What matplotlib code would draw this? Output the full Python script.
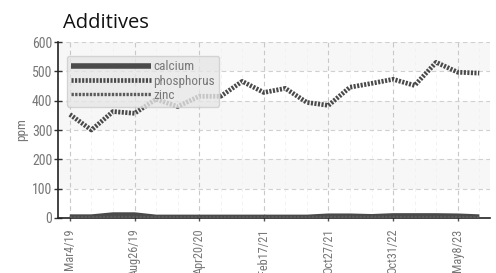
import matplotlib
matplotlib.use("Agg")
import matplotlib.pyplot as plt
import numpy as np

dates = ["Mar4/19", "", "", "Aug26/19", "", "", "Apr20/20", "", "", "Feb17/21", "", "",
         "Oct27/21", "", "", "Oct31/22", "", "", "May8/23", ""]
phosphorus = [353, 300, 363, 357, 405, 380, 415, 415, 466, 428, 442, 394,
              384, 446, 459, 473, 452, 531, 497, 494]
calcium = [3, 3, 10, 10, 2, 2, 2, 2, 2, 2, 2, 2, 6, 6, 4, 7, 7, 7, 6, 3]
zinc = [1, 1, 2, 2, 1, 1, 1, 1, 1, 1, 1, 1, 2, 2, 2, 2, 2, 2, 2, 1]
yticks = [0, 100, 200, 300, 400, 500, 600]

cond = ['Roboto Condensed', 'Liberation Sans Narrow', 'Roboto', 'DejaVu Sans']

fig = plt.figure(figsize=(4.96, 2.73), dpi=100)
ax = fig.add_axes([0.117, 0.2015, 0.871, 0.6445])
x = np.arange(len(phosphorus))

for lo in (100, 300, 500):
    ax.axhspan(lo, lo + 100, color='#f7f7f7', zorder=0, lw=0)

lc = '#4a4a4a'
ax.plot(x, calcium, color=lc, lw=4, solid_capstyle='butt', label='calcium', zorder=3)
ax.plot(x, phosphorus, color=lc, lw=3.4, ls=(0, (0.45, 0.3)), label='phosphorus', zorder=3)
ax.plot(x, zinc, color='#5a5a5a', lw=2.4, ls=(0, (0.7, 0.4)), label='zinc', zorder=3)

ax.set_xlim(-0.55, 19.5)
ax.set_ylim(0, 600)
ax.set_yticks(yticks)
ax.set_yticklabels([str(v) for v in yticks])
major = [i for i, d in enumerate(dates) if d]
ax.set_xticks(major)
ax.set_xticklabels([dates[i] for i in major], rotation=90, va='top')
ax.set_xticks(x, minor=True)

ax.grid(True, which='major', axis='y', color='#d0d0d0', ls=(0, (4, 3)), lw=0.8, zorder=1)
ax.grid(True, which='major', axis='x', color='#c8c8c8', ls=(0, (4, 3)), lw=0.8, zorder=1)
ax.grid(True, which='minor', axis='x', color='#f0f0f0', ls=(0, (4, 4)), lw=0.6, zorder=1)

for s in ('top', 'right'):
    ax.spines[s].set_visible(False)
for s in ('left', 'bottom'):
    ax.spines[s].set_color('#222222')
    ax.spines[s].set_linewidth(1.2)

ax.tick_params(axis='y', direction='inout', length=6, width=1, color='#333333',
               labelcolor='#777777', labelsize=10, pad=1)
ax.tick_params(axis='x', which='major', direction='inout', length=5, width=1,
               color='#555555', labelcolor='#777777', labelsize=8.8, pad=5)
ax.tick_params(axis='x', which='minor', length=0)
for lab in ax.get_xticklabels() + ax.get_yticklabels():
    lab.set_family(cond)

ax.set_ylabel('ppm', color='#777777', fontsize=9.5, family=cond, labelpad=3)
fig.text(0.127, 0.88, 'Additives', fontsize=14.5, color='#111111', ha='left', va='bottom',
         family=['Open Sans', 'DejaVu Sans'])

leg = ax.legend(loc='upper left', bbox_to_anchor=(0.005, 0.96), frameon=True, fancybox=True,
                handlelength=6.0, handletextpad=0.2, borderpad=0.35, labelspacing=0.1,
                prop={'family': cond, 'size': 9.5})
leg.get_frame().set_facecolor('#e6e6e6')
leg.get_frame().set_alpha(0.8)
leg.get_frame().set_edgecolor('#cccccc')
for t in leg.get_texts():
    t.set_color('#777777')

fig.savefig('out.png', dpi=100)
